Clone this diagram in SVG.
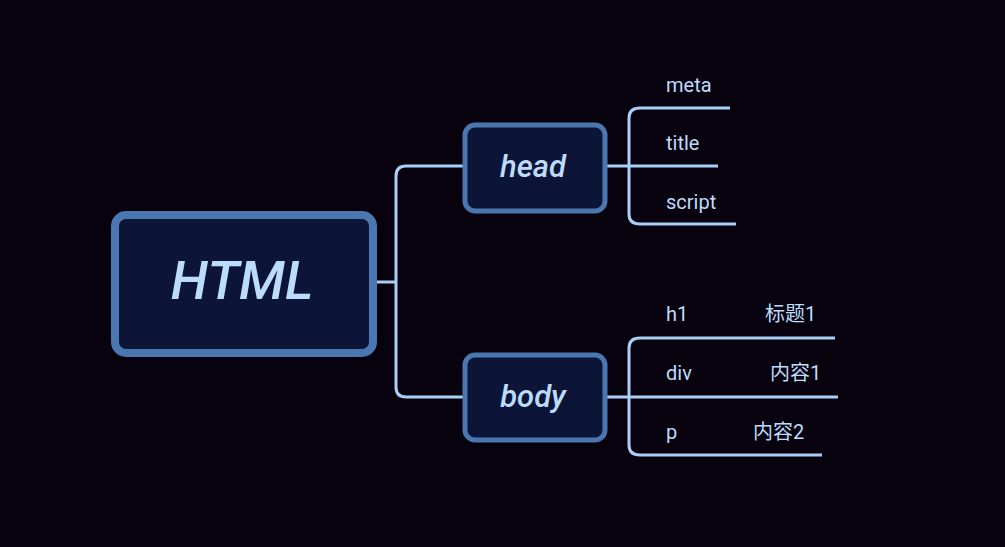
<svg xmlns="http://www.w3.org/2000/svg" width="1005" height="547" viewBox="0 0 1005 547">
<style>
.bg{fill:#07020e}
.box{fill:#0c1538;stroke:#4a77b0}
.ln{fill:none;stroke:#a9cff6;stroke-width:3;stroke-linecap:butt}
.t{font-family:Roboto,"Noto Sans CJK SC",sans-serif;fill:#bcdcfb;font-size:20px}
.n{font-family:Roboto,"Noto Sans",sans-serif;font-style:italic;font-weight:500;fill:#bcdcfb;text-anchor:middle}
</style>
<rect class="bg" width="1005" height="547"/>
<g id="connectors">
<path class="ln" d="M377 282H396"/>
<path class="ln" d="M463 166H406Q396 166 396 176V387Q396 397 406 397H463"/>
<path class="ln" d="M607 166H629"/>
<path class="ln" d="M730 108H640Q629 108 629 118V214Q629 224 640 224H736"/>
<path class="ln" d="M629 166H718"/>
<path class="ln" d="M607 397H838"/>
<path class="ln" d="M835 338H640Q629 338 629 348V445Q629 455 640 455H822"/>
</g>
<g id="html">
<rect class="box" x="115" y="215" width="258" height="138" rx="11" stroke-width="8"/>
<text class="n" x="242" y="299" font-size="54">HTML</text>
</g>
<g id="head">
<rect class="box" x="465" y="125" width="140" height="86" rx="10" stroke-width="5"/>
<text class="n" x="533" y="177" font-size="31">head</text>
</g>
<g id="body">
<rect class="box" x="465" y="355" width="140" height="85" rx="10" stroke-width="5"/>
<text class="n" x="533" y="407" font-size="31">body</text>
</g>
<g id="meta"><text class="t" x="666" y="92">meta</text></g>
<g id="title"><text class="t" x="666" y="150">title</text></g>
<g id="script"><text class="t" x="666" y="209">script</text></g>
<g id="h1"><text class="t" x="666" y="321">h1</text><text class="t" x="765" y="321">标题1</text></g>
<g id="div"><text class="t" x="666" y="380">div</text><text class="t" x="770" y="380">内容1</text></g>
<g id="p"><text class="t" x="666" y="439">p</text><text class="t" x="753" y="439">内容2</text></g>
</svg>
